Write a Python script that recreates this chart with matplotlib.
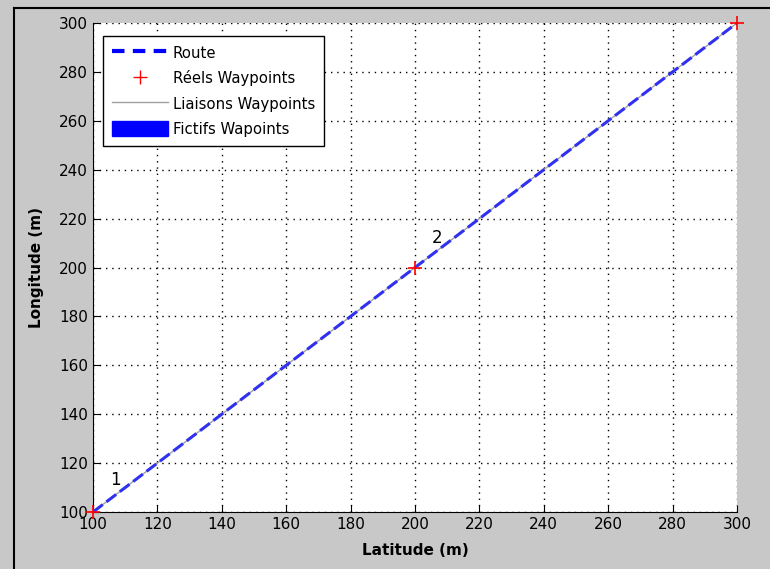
import matplotlib.pyplot as plt
from matplotlib.lines import Line2D
from matplotlib.patches import Patch

# waypoints (m)
wp_lat = [100, 200, 300]
wp_lon = [100, 200, 300]
wp_names = ['1', '2']
label_lat = [107, 207]
label_lon = [113, 212]

ticks = list(range(100, 301, 20))

fig = plt.figure(figsize=(7.7, 5.69), dpi=100)
fig.patch.set_facecolor('#c8c8c8')
# screenshot frame
fig.add_artist(Line2D([14/770, 14/770], [0, 1 - 8/569], color='black', lw=1.5))
fig.add_artist(Line2D([14/770, 1], [1 - 8/569, 1 - 8/569], color='black', lw=1.5))

ax = fig.add_axes([93/770, 1 - 512/569, 644/770, 489/569])
ax.set_facecolor('white')

ax.plot(wp_lat, wp_lon, color='#a0a0a0', lw=1, zorder=2)
ax.plot([wp_lat[0], wp_lat[-1]], [wp_lon[0], wp_lon[-1]], color='#3030f0',
        lw=2.2, linestyle=(0, (4, 1.5)), zorder=3)
ax.plot(wp_lat, wp_lon, linestyle='none', marker='+', color='red', ms=10,
        mew=1.2, zorder=4, clip_on=False)

for name, x, y in zip(wp_names, label_lat, label_lon):
    ax.text(x, y, name, fontsize=12, ha='center', va='center')

ax.set_xlim(100, 300)
ax.set_ylim(100, 300)
ax.set_xticks(ticks)
ax.set_yticks(ticks)
ax.grid(True, color='black', linestyle=(0, (1, 3.5)), lw=1)
ax.tick_params(direction='in', length=5, labelsize=11, top=False, right=False)
for s in ['top', 'right']:
    ax.spines[s].set_visible(False)
ax.set_xlabel('Latitude (m)', fontsize=11, fontweight='bold', labelpad=8)
ax.set_ylabel('Longitude (m)', fontsize=11, fontweight='bold', labelpad=11)

handles = [
    Line2D([], [], color='#0000ff', lw=3, linestyle=(0, (3, 2))),
    Line2D([], [], color='red', marker='+', linestyle='none', ms=10),
    Line2D([], [], color='#a0a0a0', lw=1),
    Patch(facecolor='#0000ff', edgecolor='#0000ff'),
]
names = ['Route', 'Réels Waypoints', 'Liaisons Waypoints', 'Fictifs Wapoints']
leg = ax.legend(handles, names, loc='upper left', bbox_to_anchor=(10/644, 1 - 13/489),
                fancybox=False, edgecolor='black', framealpha=1, fontsize=10.7,
                handlelength=3.8, handleheight=1.2, labelspacing=0.65,
                borderpad=0.6, handletextpad=0.3, borderaxespad=0)
leg.get_frame().set_linewidth(1)

fig.savefig('out.png', dpi=100, facecolor=fig.get_facecolor())
